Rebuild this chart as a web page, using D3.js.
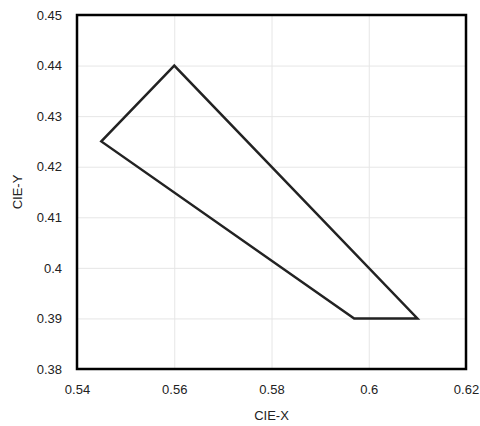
<!DOCTYPE html>
<html><head><meta charset="utf-8">
<script src="https://cdn.jsdelivr.net/npm/d3@7"></script>
<style>body{margin:0;background:#fff}svg{display:block}text{font-family:"Liberation Sans",Arial,sans-serif}</style>
</head><body><svg id="c" width="480" height="426"></svg>
<script>
const cieX = [0.56, 0.545, 0.597, 0.61];
const cieY = [0.44, 0.425, 0.39, 0.39];
const xTicks = [0.54, 0.56, 0.58, 0.6, 0.62];
const yTicks = [0.38, 0.39, 0.4, 0.41, 0.42, 0.43, 0.44, 0.45];
const xLabel = "CIE-X", yLabel = "CIE-Y";

const m = {l:77, t:15, r:466, b:369};
const svg = d3.select("#c");
const x = d3.scaleLinear().domain([0.54,0.62]).range([m.l,m.r]);
const y = d3.scaleLinear().domain([0.38,0.45]).range([m.b,m.t]);

svg.append("g").attr("transform",`translate(0,${m.b})`)
  .call(d3.axisBottom(x).tickValues(xTicks).tickSize(-(m.b-m.t)).tickFormat(d3.format("")))
  .call(g=>{g.select(".domain").remove();
    g.selectAll(".tick line").attr("stroke","#e6e6e6");
    g.selectAll(".tick text").attr("y",16).attr("dy","0.71em").attr("font-size",13).attr("fill","#222");});
svg.append("g").attr("transform",`translate(${m.l},0)`)
  .call(d3.axisLeft(y).tickValues(yTicks).tickSize(-(m.r-m.l)).tickFormat(d3.format("")))
  .call(g=>{g.select(".domain").remove();
    g.selectAll(".tick line").attr("stroke","#e6e6e6");
    g.selectAll(".tick text").attr("x",-15).attr("font-size",13).attr("fill","#222");});

const pts = cieX.map((v,i)=>[x(v), y(cieY[i])]);
svg.append("path").attr("d", d3.line()(pts)+"Z")
  .attr("fill","none").attr("stroke","#222").attr("stroke-width",2.5).attr("stroke-linejoin","miter");

svg.append("rect").attr("x",m.l).attr("y",m.t).attr("width",m.r-m.l).attr("height",m.b-m.t)
  .attr("fill","none").attr("stroke","#000").attr("stroke-width",2.5);

svg.append("text").attr("x",(m.l+m.r)/2).attr("y",420).attr("text-anchor","middle")
  .attr("font-size",13).attr("fill","#222").text(xLabel);
svg.append("text").attr("transform",`translate(22,${(m.t+m.b)/2}) rotate(-90)`).attr("text-anchor","middle")
  .attr("font-size",13).attr("fill","#222").text(yLabel);
</script></body></html>
